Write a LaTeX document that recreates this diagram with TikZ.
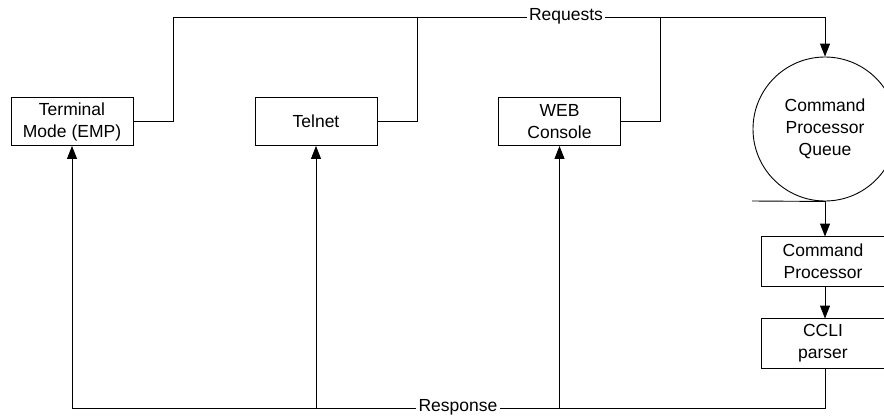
\documentclass[tikz,border=0pt]{standalone}
\usepackage{fontspec}
\setmainfont{Liberation Sans}
\usetikzlibrary{arrows.meta}

\begin{document}
\begin{tikzpicture}[x=1pt,y=-1pt,
  line width=0.9pt,
  every node/.style={font=\fontsize{17.5}{22}\selectfont, align=center},
  blk/.style={draw, minimum width=122pt, minimum height=48pt, inner sep=0pt},
  sideblk/.style={minimum width=122pt, minimum height=49pt, inner sep=0pt},
  lbl/.style={fill=white, inner sep=2.5pt},
  tip/.style={-{Triangle[length=13pt,width=10pt]}}]
  \useasboundingbox (0,0) rectangle (884,416);
  \clip (0,0) rectangle (884,416);

  % client front ends
  \node[blk] (term)   at (72,121.5)  {Terminal\\Mode (EMP)};
  \node[blk] (telnet) at (316,121.5) {Telnet};
  \node[blk] (web)    at (559.5,121.5) {WEB\\Console};

  % queue and processing chain (right border runs off the page)
  \node[draw, circle, minimum size=144pt, inner sep=0pt] (queue) at (825,129) {Command\\Processor\\Queue};
  \node[sideblk] (proc) at (823,261.5) {Command\\Processor};
  \node[sideblk] (ccli) at (823,343.5) {CCLI\\parser};
  \draw (proc.south west) rectangle ([xshift=20pt]proc.north east);
  \draw (ccli.south west) rectangle ([xshift=20pt]ccli.north east);

  % request bus
  \coordinate (rq1) at (173,17);
  \coordinate (rq2) at (417,17);
  \coordinate (rq3) at (660,17);
  \coordinate (rqe) at (825,17);
  \draw (term.east) -| (rq1);
  \draw (telnet.east) -| (rq2);
  \draw (web.east) -| (rq3);
  \draw[tip] (rq1) -- (rqe) -- (queue.north);
  \node[lbl] (req) at (566,16) {Requests};

  % queue outlet
  \coordinate (qbar) at (752,201);
  \draw (qbar) -- (queue.south);
  \draw[tip] (queue.south) -- (queue.south |- proc.north);
  \draw[tip] (queue.south |- proc.south) -- (queue.south |- ccli.north);

  % response bus
  \coordinate (rs0) at (825,408);
  \coordinate (rs1) at (72,408);
  \coordinate (rs2) at (316,408);
  \coordinate (rs3) at (559.5,408);
  \draw (queue.south |- ccli.south) -- (rs0) -- (rs1);
  \draw[tip] (rs1) -- (term.south);
  \draw[tip] (rs2) -- (telnet.south);
  \draw[tip] (rs3) -- (web.south);
  \node[lbl] (resp) at (458,407) {Response};
\end{tikzpicture}
\end{document}
